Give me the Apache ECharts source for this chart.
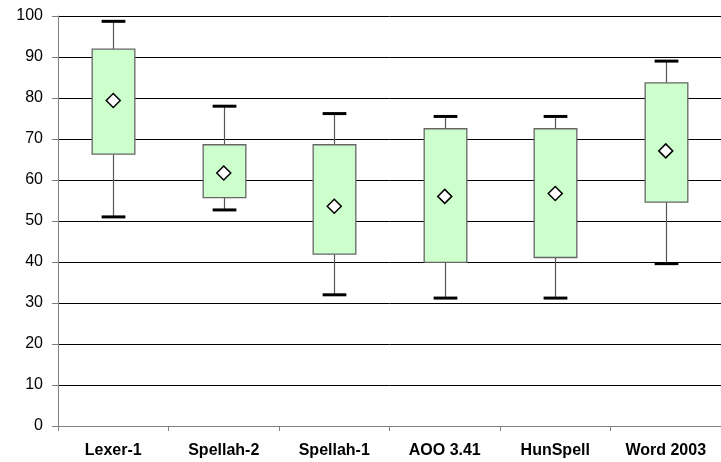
<!DOCTYPE html>
<html>
<head>
<meta charset="utf-8">
<script src="https://cdn.jsdelivr.net/npm/echarts@6/dist/echarts.min.js"></script>
<style>
  html, body { margin: 0; padding: 0; background: #fff; }
  #chart { width: 721px; height: 462px; }
</style>
</head>
<body>
<div id="chart"></div>
<script>
const categories = ['Lexer-1', 'Spellah-2', 'Spellah-1', 'AOO 3.41', 'HunSpell', 'Word 2003'];
const whiskerLow = [51.0, 52.7, 32.0, 31.2, 31.2, 39.6];
const q1 = [66.3, 55.7, 41.9, 39.9, 41.1, 54.6];
const q3 = [91.9, 68.6, 68.6, 72.5, 72.5, 83.7];
const whiskerHigh = [98.7, 78.0, 76.2, 75.5, 75.5, 89.0];
const means = [79.4, 61.7, 53.6, 56.0, 56.7, 67.1];
const yTicks = { min: 0, max: 100, interval: 10 };

const container = document.getElementById('chart');
const chart = echarts.init(container);

const boxData = categories.map(function (c, i) {
    return [i, whiskerLow[i], q1[i], q3[i], whiskerHigh[i]];
});

function renderBox(params, api) {
    const i = api.value(0);
    const band = api.size([1, 0])[0];
    const boxW = band * 0.386;
    const capW = band * 0.215;
    const pLow = api.coord([i, api.value(1)]);
    const pQ1 = api.coord([i, api.value(2)]);
    const pQ3 = api.coord([i, api.value(3)]);
    const pHigh = api.coord([i, api.value(4)]);
    const x = Math.round(pLow[0]) + 0.5;
    return {
        type: 'group',
        children: [
            {
                type: 'line',
                shape: { x1: x, y1: pLow[1], x2: x, y2: pQ1[1] },
                style: { stroke: '#555', lineWidth: 1.2 }
            },
            {
                type: 'line',
                shape: { x1: x, y1: pQ3[1], x2: x, y2: pHigh[1] },
                style: { stroke: '#555', lineWidth: 1.2 }
            },
            {
                type: 'rect',
                shape: { x: x - boxW / 2, y: pQ3[1], width: boxW, height: pQ1[1] - pQ3[1] },
                style: { fill: '#ccffcc', stroke: '#666', lineWidth: 1.3 }
            },
            {
                type: 'line',
                shape: { x1: x - capW / 2, y1: pLow[1], x2: x + capW / 2, y2: pLow[1] },
                style: { stroke: '#000', lineWidth: 3 }
            },
            {
                type: 'line',
                shape: { x1: x - capW / 2, y1: pHigh[1], x2: x + capW / 2, y2: pHigh[1] },
                style: { stroke: '#000', lineWidth: 3 }
            }
        ]
    };
}

const option = {
    animation: false,
    grid: { left: 58, top: 16, width: 669, bottom: 36 },
    xAxis: {
        type: 'category',
        data: categories,
        boundaryGap: true,
        axisLine: { lineStyle: { color: '#808080', width: 1 } },
        axisTick: { show: true, length: 5, inside: false, lineStyle: { color: '#808080' } },
        axisLabel: {
            margin: 17,
            color: '#000',
            fontFamily: 'Liberation Sans',
            fontWeight: 'bold',
            fontSize: 16
        },
        splitLine: { show: false }
    },
    yAxis: {
        type: 'value',
        min: yTicks.min,
        max: yTicks.max,
        interval: yTicks.interval,
        axisLine: { show: true, lineStyle: { color: '#808080', width: 1 } },
        axisTick: { show: true, length: 6, lineStyle: { color: '#808080' } },
        axisLabel: {
            margin: 15,
            color: '#000',
            fontFamily: 'Liberation Sans',
            fontSize: 16
        },
        splitLine: { show: true, lineStyle: { color: '#000', width: 1 } }
    },
    series: [
        {
            type: 'custom',
            renderItem: renderBox,
            encode: { x: 0, y: [1, 2, 3, 4] },
            data: boxData,
            z: 2
        },
        {
            type: 'scatter',
            data: means.map(function (m, i) { return [i, m]; }),
            symbol: 'diamond',
            symbolSize: [14, 14],
            itemStyle: { color: '#fff', borderColor: '#000', borderWidth: 1.5, opacity: 1 },
            z: 3
        }
    ]
};

chart.setOption(option);
</script>
</body>
</html>
